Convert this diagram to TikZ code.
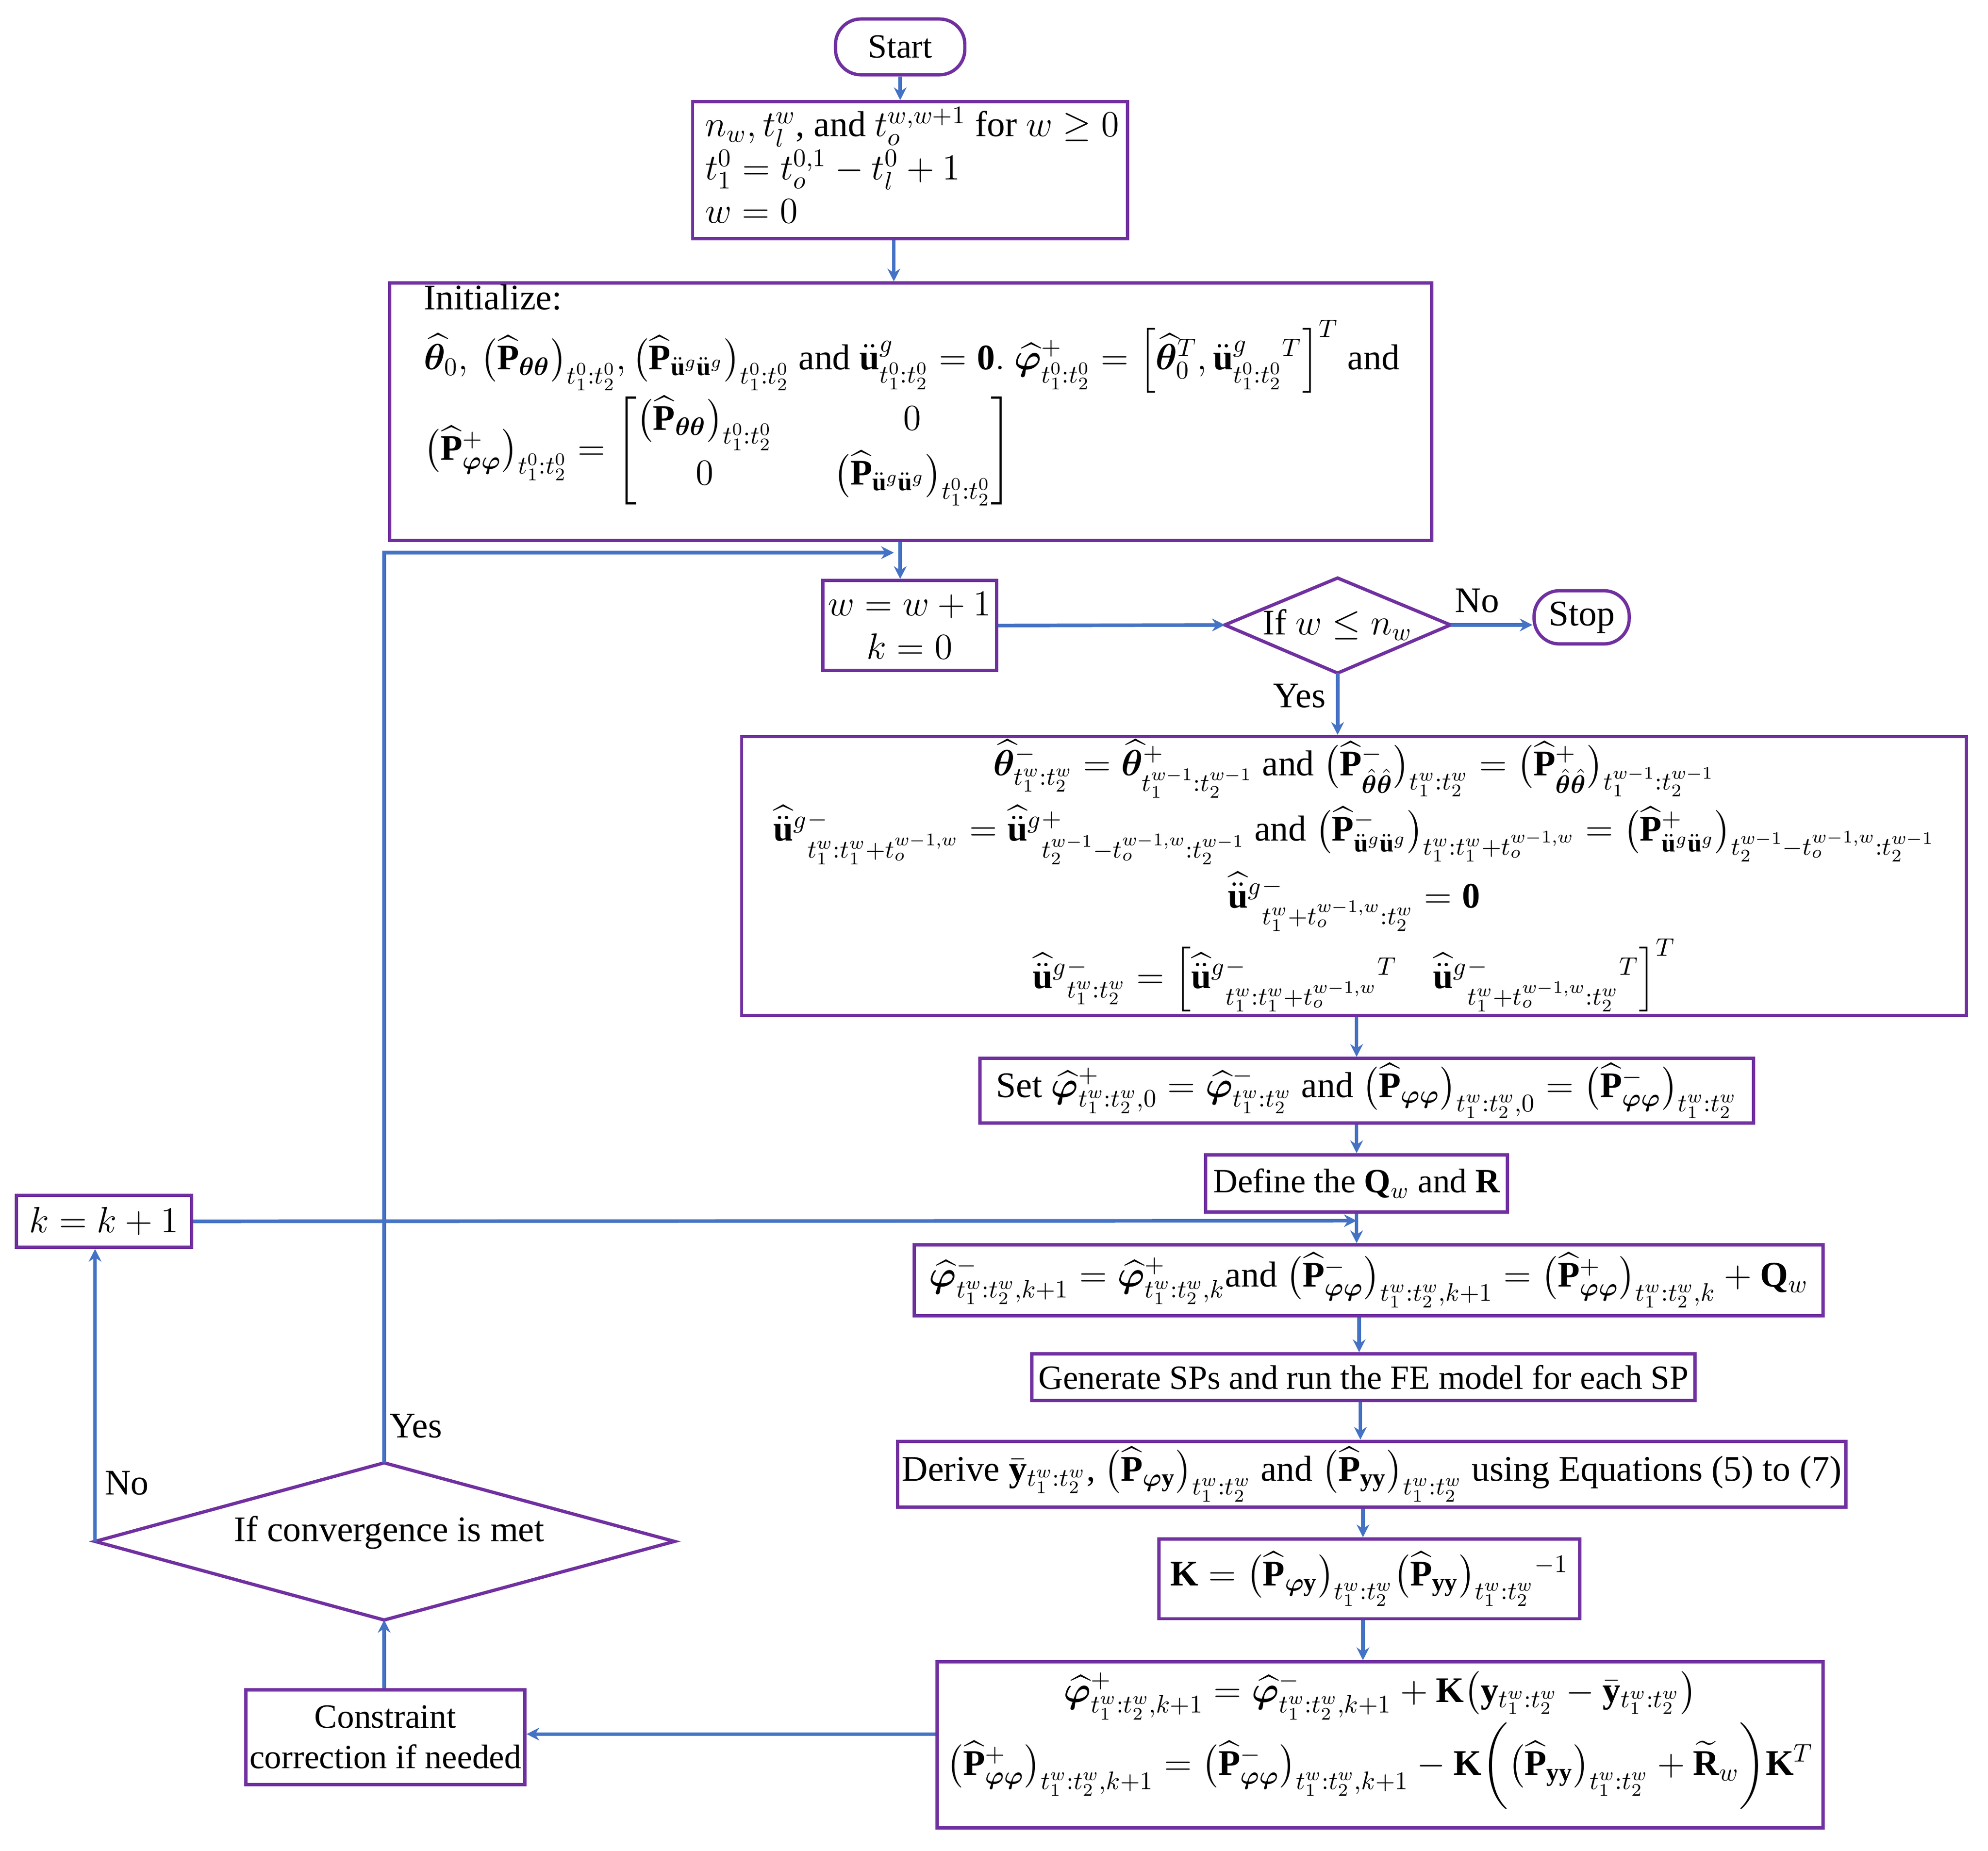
\documentclass[tikz,border=0pt]{standalone}
\usepackage{amsmath,amssymb,bm}
\usepackage{fontspec}
\setmainfont{Liberation Serif}
\usetikzlibrary{shapes.geometric,arrows.meta}
\definecolor{pur}{HTML}{7030A0}
\definecolor{blu}{HTML}{4472C4}
\newcommand\Ph{\widehat{\mathbf P}}
\newcommand\tw{t_1^w:t_2^w}
\newcommand\tz{t_1^0:t_2^0}
\newcommand\vph{\widehat{\bm\varphi}}
\newcommand\pp{\bm{\varphi\varphi}}
\newcommand\thh{\widehat{\bm\theta}}
\newcommand\ug{\widehat{\ddot{\mathbf u}}{}^{g}}
\begin{document}
\begin{tikzpicture}[x=0.5pt,y=-0.5pt,
  font=\rmfamily\fontsize{12.5}{15}\selectfont,
  big/.style={font=\rmfamily\fontsize{14.2}{17}\selectfont},
  mid/.style={font=\rmfamily\fontsize{13.4}{16}\selectfont},
  box/.style={draw=pur,line width=1.3pt,inner sep=1pt,align=center},
  term/.style={draw=pur,line width=1.3pt,rounded corners=10pt},
  dia/.style={draw=pur,line width=1.3pt},
  arr/.style={draw=blu,line width=1.4pt,-{Stealth[length=5pt,width=5pt]}},
  lab/.style={inner sep=1pt}]
\useasboundingbox (0,0) rectangle (1568,1460);
\node[term,mid,minimum width=51pt,minimum height=22pt] (start) at (710,37) {Start};
\node[box,minimum width=171.5pt,minimum height=54pt,anchor=north west] (b1) at (545,79) {};
\node[big,anchor=north west,align=left,inner sep=0pt] (b1t) at (556,84)
 {$n_w, t_l^w$, and $t_o^{w,w+1}$ for $w\ge 0$\\ $t_1^0=t_o^{0,1}-t_l^0+1$\\ $w=0$};
\node[box,minimum width=411pt,minimum height=101.5pt,anchor=north west,inner sep=0pt] (init) at (306,222) {};
\node[big,anchor=north west,align=left,inner sep=0pt] (initt) at (334,224) {Initialize:\\[3pt]
 $\thh_0,\,\big(\Ph_{\bm{\theta\theta}}\big)_{\tz},\big(\Ph_{\ddot{\mathbf u}^g\ddot{\mathbf u}^g}\big)_{\tz}$ and $\ddot{\mathbf u}^g_{\tz}=\mathbf 0.\ \vph^{+}_{\tz}=\Big[\thh_0^T,\ddot{\mathbf u}^g_{\tz}{}^T\Big]^T$ and\\[0pt]
 $\big(\Ph^{+}_{\pp}\big)_{\tz}=\begin{bmatrix}\big(\Ph_{\bm{\theta\theta}}\big)_{\tz} & \quad 0\\[2pt] 0 & \quad\big(\Ph_{\ddot{\mathbf u}^g\ddot{\mathbf u}^g}\big)_{\tz}\end{bmatrix}$};
\node[box,big,minimum width=68.5pt,minimum height=35.5pt] (w) at (717.5,493.5) {$w=w+1$\\ $k=0$};
\coordinate (d1w) at (966,493); \coordinate (d1e) at (1144,493);
\coordinate (d1n) at (1055,456); \coordinate (d1s) at (1055,531);
\draw[dia] (d1w) -- (d1n) -- (d1e) -- (d1s) -- cycle;
\node[big] (d1) at (1055,493) {If $w\le n_w$};
\node[term,big,minimum width=37.5pt,minimum height=21pt] (stop) at (1247.5,487) {Stop};
\node[box,big,minimum width=483pt,minimum height=110pt] (bigb) at (1068,691) {
 $\thh^{-}_{\tw}=\thh^{+}_{t_1^{w-1}:t_2^{w-1}}$ and $\big(\Ph^{-}_{\hat{\bm\theta}\hat{\bm\theta}}\big)_{\tw}=\big(\Ph^{+}_{\hat{\bm\theta}\hat{\bm\theta}}\big)_{t_1^{w-1}:t_2^{w-1}}$\\[2pt]
 $\ug{}^{-}_{t_1^w:t_1^w+t_o^{w-1,w}}=\ug{}^{+}_{t_2^{w-1}-t_o^{w-1,w}:t_2^{w-1}}$ and $\big(\Ph^{-}_{\ddot{\mathbf u}^g\ddot{\mathbf u}^g}\big)_{t_1^w:t_1^w+t_o^{w-1,w}}=\big(\Ph^{+}_{\ddot{\mathbf u}^g\ddot{\mathbf u}^g}\big)_{t_2^{w-1}-t_o^{w-1,w}:t_2^{w-1}}$\\[2pt]
 $\ug{}^{-}_{t_1^w+t_o^{w-1,w}:t_2^w}=\mathbf 0$\\[2pt]
 $\ug{}^{-}_{\tw}=\Big[\ug{}^{-}_{t_1^w:t_1^w+t_o^{w-1,w}}{}^T\quad \ug{}^{-}_{t_1^w+t_o^{w-1,w}:t_2^w}{}^T\Big]^T$};
\node[box,big,minimum width=305pt,minimum height=25.5pt] (set) at (1078,860.5) {Set $\vph^{+}_{t_1^w:t_2^w,0}=\vph^{-}_{\tw}$ and $\big(\Ph_{\pp}\big)_{t_1^w:t_2^w,0}=\big(\Ph^{-}_{\pp}\big)_{\tw}$};
\node[box,mid,minimum width=119pt,minimum height=22.5pt] (def) at (1070,933.5) {Define the $\mathbf Q_w$ and $\mathbf R$};
\node[box,big,minimum width=69pt,minimum height=20.5pt] (k) at (82,963.5) {$k=k+1$};
\node[box,big,minimum width=358.5pt,minimum height=28pt] (pm) at (1079.5,1010) {$\vph^{-}_{t_1^w:t_2^w,k+1}=\vph^{+}_{t_1^w:t_2^w,k}$and $\big(\Ph^{-}_{\pp}\big)_{t_1^w:t_2^w,k+1}=\big(\Ph^{+}_{\pp}\big)_{t_1^w:t_2^w,k}+\mathbf Q_w$};
\node[box,mid,minimum width=261.5pt,minimum height=18.5pt] (gen) at (1075.5,1086.5) {Generate SPs and run the FE model for each SP};
\node[box,big,minimum width=374pt,minimum height=26pt] (der) at (1082,1163) {Derive $\bar{\mathbf y}_{\tw}$, $\big(\Ph_{\bm\varphi\mathbf y}\big)_{\tw}$ and $\big(\Ph_{\mathbf{yy}}\big)_{\tw}$ using Equations (5) to (7)};
\node[box,big,minimum width=166pt,minimum height=31.5pt] (K) at (1080,1245.5) {$\mathbf K=\big(\Ph_{\bm\varphi\mathbf y}\big)_{\tw}\big(\Ph_{\mathbf{yy}}\big)_{\tw}{}^{-1}$};
\node[box,minimum width=349.5pt,minimum height=65.5pt] (fin) at (1088.5,1376.5) {};
\node[big,align=center,inner sep=0pt] (fint) at (1088.5,1373) {$\vph^{+}_{t_1^w:t_2^w,k+1}=\vph^{-}_{t_1^w:t_2^w,k+1}+\mathbf K\big(\mathbf y_{\tw}-\bar{\mathbf y}_{\tw}\big)$\\[0pt]
 $\big(\Ph^{+}_{\pp}\big)_{t_1^w:t_2^w,k+1}=\big(\Ph^{-}_{\pp}\big)_{t_1^w:t_2^w,k+1}-\mathbf K\bigg(\big(\Ph_{\mathbf{yy}}\big)_{\tw}+\widetilde{\mathbf R}_w\bigg)\mathbf K^T$};
\node[box,mid,minimum width=110pt,minimum height=37.5pt] (con) at (304,1370.5) {Constraint\\correction if needed};
\coordinate (d2w) at (75,1216); \coordinate (d2e) at (532,1216);
\coordinate (d2n) at (303,1154); \coordinate (d2s) at (303,1278);
\draw[dia] (d2w) -- (d2n) -- (d2e) -- (d2s) -- cycle;
\node[big] (d2) at (307,1209) {If convergence is met};
\coordinate (top) at (303,436);
\coordinate (wtop) at (705,436);
\path[arr] (start) -- (b1.north -| start);
\path[arr] (b1.south -| 705,0) -- (init.north -| 705,0);
\path[arr] (init.south -| 710,0) -- (w.north -| 710,0);
\path[arr] (w.east) -- (d1w);
\path[arr] (d1e) -- (stop.west |- d1e);
\node[big,lab] at (1165,474) {No};
\path[arr] (d1s) -- (bigb.north -| d1s);
\node[big,lab] at (1025,549) {Yes};
\path[arr] (bigb.south -| 1070,0) -- (set.north -| 1070,0);
\path[arr] (set.south -| 1070,0) -- (def.north -| 1070,0);
\path[arr] (def.south -| 1070,0) -- (pm.north -| 1070,0);
\path[arr] (k.east) -- (1070,963);
\path[arr] (pm.south -| 1072,0) -- (gen.north -| 1072,0);
\path[arr] (gen.south -| 1073,0) -- (der.north -| 1073,0);
\path[arr] (der.south -| 1075,0) -- (K.north -| 1075,0);
\path[arr] (K.south -| 1075,0) -- (fin.north -| 1075,0);
\path[arr] (fin.west |- 0,1368) -- (con.east |- 0,1368);
\path[arr] (con.north -| 303,0) -- (d2s);
\path[arr] (d2n) -- (top) -- (wtop);
\node[big,lab] at (328,1125) {Yes};
\path[arr] (d2w) -- (k.south -| d2w);
\node[big,lab] at (100,1170) {No};
\end{tikzpicture}
\end{document}
